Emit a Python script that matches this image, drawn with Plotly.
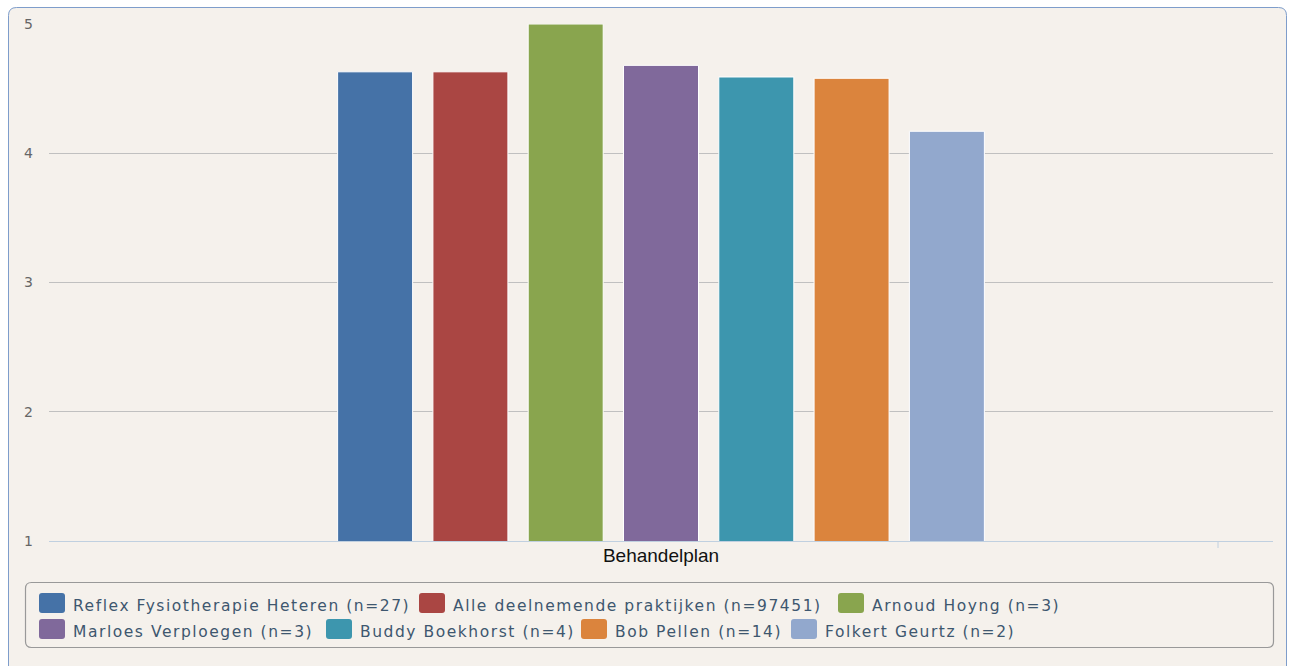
import plotly.graph_objects as go

# ---- data ----
category = ["Behandelplan"]
series_names = [
    "Reflex Fysiotherapie Heteren (n=27)",
    "Alle deelnemende praktijken (n=97451)",
    "Arnoud Hoyng (n=3)",
    "Marloes Verploegen (n=3)",
    "Buddy Boekhorst (n=4)",
    "Bob Pellen (n=14)",
    "Folkert Geurtz (n=2)",
]
series_values = [4.63, 4.63, 5.0, 4.68, 4.59, 4.58, 4.17]
y_ticks = [1, 2, 3, 4, 5]
colors = ["#4572A7", "#AA4643", "#89A54E", "#80699B", "#3D96AE", "#DB843D", "#92A8CD"]

# ---- layout geometry (pixels) ----
W, H = 1289, 666
L, R, T, B = 49, 1273, 24, 541
BG = "#F5F1EC"


def px(x):
    return (x - L) / (R - L)


def py(y):
    return (B - y) / (B - T)


def rrect(x0, y0, x1, y1, r):
    pts = [
        f"M{px(x0 + r)},{py(y0)}",
        f"L{px(x1 - r)},{py(y0)}",
        f"Q{px(x1)},{py(y0)} {px(x1)},{py(y0 + r)}",
        f"L{px(x1)},{py(y1 - r)}",
        f"Q{px(x1)},{py(y1)} {px(x1 - r)},{py(y1)}",
        f"L{px(x0 + r)},{py(y1)}",
        f"Q{px(x0)},{py(y1)} {px(x0)},{py(y1 - r)}",
        f"L{px(x0)},{py(y0 + r)}",
        f"Q{px(x0)},{py(y0)} {px(x0 + r)},{py(y0)}",
        "Z",
    ]
    return " ".join(pts)


fig = go.Figure()
for name, val, col in zip(series_names, series_values, colors):
    fig.add_trace(go.Bar(
        x=category, y=[val], name=name,
        marker=dict(color=col, line=dict(color="#FFFFFF", width=1)),
        showlegend=False,
    ))

shapes = []
# chart container
shapes.append(dict(type="path", xref="paper", yref="paper", layer="below",
                   path=rrect(8.5, 7.5, 1286.5, 720, 8),
                   fillcolor=BG, line=dict(color="#7E9DCB", width=1)))
# legend box
shapes.append(dict(type="path", xref="paper", yref="paper", layer="above",
                   path=rrect(25.5, 582.5, 1273.5, 647.5, 6),
                   fillcolor="rgba(0,0,0,0)", line=dict(color="#999999", width=1.2)))
# small axis tick
shapes.append(dict(type="line", xref="paper", yref="paper",
                   x0=px(1218), x1=px(1218), y0=py(541), y1=py(548),
                   line=dict(color="#C0D0E0", width=1)))

# custom legend
swatch_pos = [(39, 593), (419, 593), (838, 593), (39, 619), (326, 619), (581, 619), (791, 619)]
annotations = []
for (sx, sy), name, col in zip(swatch_pos, series_names, colors):
    shapes.append(dict(type="path", xref="paper", yref="paper",
                       path=rrect(sx, sy, sx + 26, sy + 20, 3),
                       fillcolor=col, line=dict(width=0)))
    annotations.append(dict(
        xref="paper", yref="paper", x=px(sx + 32), y=py(sy + 12.5),
        xanchor="left", yanchor="middle", showarrow=False,
        text=f'<span style="letter-spacing:1.55px">{name}</span>',
        font=dict(family="DejaVu Sans", size=15.5, color="#3E576F"),
    ))

fig.update_layout(
    width=W, height=H,
    margin=dict(l=L, r=W - R, t=T, b=H - B, pad=0),
    paper_bgcolor="#FFFFFF",
    plot_bgcolor="rgba(0,0,0,0)",
    barmode="group",
    bargap=0.455,
    bargroupgap=0.213,
    shapes=shapes,
    annotations=annotations,
    showlegend=False,
    xaxis=dict(
        type="category", showgrid=False, zeroline=False,
        showline=True, linecolor="#C0D0E0", linewidth=1,
        tickfont=dict(family="Liberation Sans", size=19, color="#111111"),
        ticks="", ticklabelstandoff=-3,
    ),
    yaxis=dict(
        range=[1, 5], tickvals=y_ticks, ticktext=[str(v) for v in y_ticks],
        showgrid=True, gridcolor="#C0C0C0", gridwidth=1, zeroline=False,
        showline=False, ticks="",
        tickfont=dict(family="DejaVu Sans", size=14, color="#666666"),
        ticklabelstandoff=15,
    ),
)

fig.write_html("out.html")
